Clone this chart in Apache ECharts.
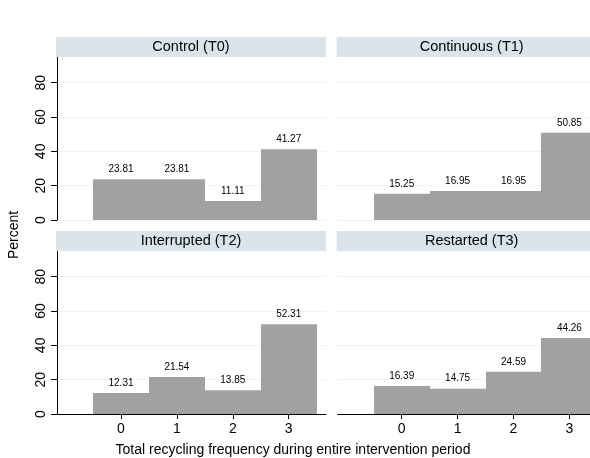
<!DOCTYPE html>
<html>
<head>
<meta charset="utf-8">
<script src="https://cdn.jsdelivr.net/npm/echarts@6/dist/echarts.min.js"></script>
<style>
html,body{margin:0;padding:0;background:#fff;}
#c{width:590px;height:458px;}
</style>
</head>
<body>
<div id="c"></div>
<script>
var categories = [0, 1, 2, 3];
var panelTitles = ['Control (T0)', 'Continuous (T1)', 'Interrupted (T2)', 'Restarted (T3)'];
var controlT0 = [23.81, 23.81, 11.11, 41.27];
var continuousT1 = [15.25, 16.95, 16.95, 50.85];
var interruptedT2 = [12.31, 21.54, 13.85, 52.31];
var restartedT3 = [16.39, 14.75, 24.59, 44.26];
var yTicks = [0, 20, 40, 60, 80];
var xTitle = 'Total recycling frequency during entire intervention period';
var yTitle = 'Percent';

var seriesValues = [controlT0, continuousT1, interruptedT2, restartedT3];
var FONT = '"Liberation Sans", Arial, Helvetica, sans-serif';
var BAR = '#a1a1a1';
var STRIP = '#d9e5ea';
var GRIDC = '#edf3f4';

var X_MIN = -1.145, X_MAX = 3.667;
var PANEL_W = 269;
var gridPos = [
  {left: 57, top: 57, width: PANEL_W, height: 163},
  {left: 337.7, top: 57, width: 590 - 337.7, height: 163},
  {left: 57, top: 251, width: PANEL_W, height: 163},
  {left: 337.7, top: 251, width: 590 - 337.7, height: 163}
];

var chart = echarts.init(document.getElementById('c'), null, {renderer: 'canvas'});
var grids = [], xAxes = [], yAxes = [], series = [], graphics = [];

for (var i = 0; i < 4; i++) {
  var isLeft = (i % 2 === 0);
  var isBottom = (i >= 2);
  var xmax = isLeft ? X_MAX : X_MIN + (X_MAX - X_MIN) * gridPos[i].width / PANEL_W;
  grids.push({left: gridPos[i].left, top: gridPos[i].top, width: gridPos[i].width, height: gridPos[i].height, containLabel: false});
  xAxes.push({
    type: 'value', gridIndex: i, min: X_MIN, max: xmax,
    axisLine: {show: isBottom, onZero: false, lineStyle: {color: '#000', width: 1}},
    axisTick: {show: isBottom, length: 5, customValues: categories, lineStyle: {color: '#000'}},
    axisLabel: {show: isBottom, customValues: categories, margin: 8, fontFamily: FONT, fontSize: 14, color: '#000'},
    splitLine: {show: false}
  });
  yAxes.push({
    type: 'value', gridIndex: i, min: 0, max: 95,
    axisLine: {show: isLeft, onZero: false, lineStyle: {color: '#000', width: 1}},
    axisTick: {show: isLeft, length: 6, customValues: yTicks, lineStyle: {color: '#000'}},
    axisLabel: {show: isLeft, customValues: yTicks, rotate: 90, margin: 9, fontFamily: FONT, fontSize: 14, color: '#000'},
    splitLine: {show: true, lineStyle: {color: GRIDC, width: 1}},
    interval: 20
  });
  var data = categories.map(function (c, k) { return [c, seriesValues[i][k]]; });
  series.push({
    type: 'custom', xAxisIndex: i, yAxisIndex: i, data: data, clip: false,
    renderItem: function (params, api) {
      var x = api.value(0), y = api.value(1);
      var p0 = api.coord([x - 0.5, y]);
      var p1 = api.coord([x + 0.5, 0]);
      var xa = Math.round(p0[0]), xb = Math.round(p1[0]);
      return {
        type: 'group',
        children: [
          {type: 'rect', shape: {x: xa, y: p0[1], width: xb - xa, height: p1[1] - p0[1]},
           style: {fill: BAR}},
          {type: 'text', style: {text: y.toFixed(2), x: (p0[0] + p1[0]) / 2, y: p0[1] - 5,
            align: 'center', verticalAlign: 'bottom', font: '10px ' + FONT, fill: '#000'}}
        ]
      };
    }
  });
  var hl = isLeft ? 56 : 336.7;
  graphics.push({
    type: 'rect', left: hl, top: gridPos[i].top - 20,
    shape: {width: 270, height: 20},
    style: {fill: STRIP}, z: 10
  });
  graphics.push({
    type: 'text', x: hl + 135, y: gridPos[i].top - 10, z: 11,
    style: {text: panelTitles[i], align: 'center', verticalAlign: 'middle', font: '14.5px ' + FONT, fill: '#000'}
  });
}

graphics.push({
  type: 'text', x: 14, y: 235, rotation: Math.PI / 2, z: 11,
  style: {text: yTitle, align: 'center', verticalAlign: 'middle', font: '14px ' + FONT, fill: '#000'}
});
graphics.push({
  type: 'text', x: 293, y: 450, z: 11,
  style: {text: xTitle, align: 'center', verticalAlign: 'middle', font: '14px ' + FONT, fill: '#000'}
});

chart.setOption({
  animation: false,
  backgroundColor: '#fff',
  grid: grids,
  xAxis: xAxes,
  yAxis: yAxes,
  series: series,
  graphic: graphics
});
</script>
</body>
</html>
